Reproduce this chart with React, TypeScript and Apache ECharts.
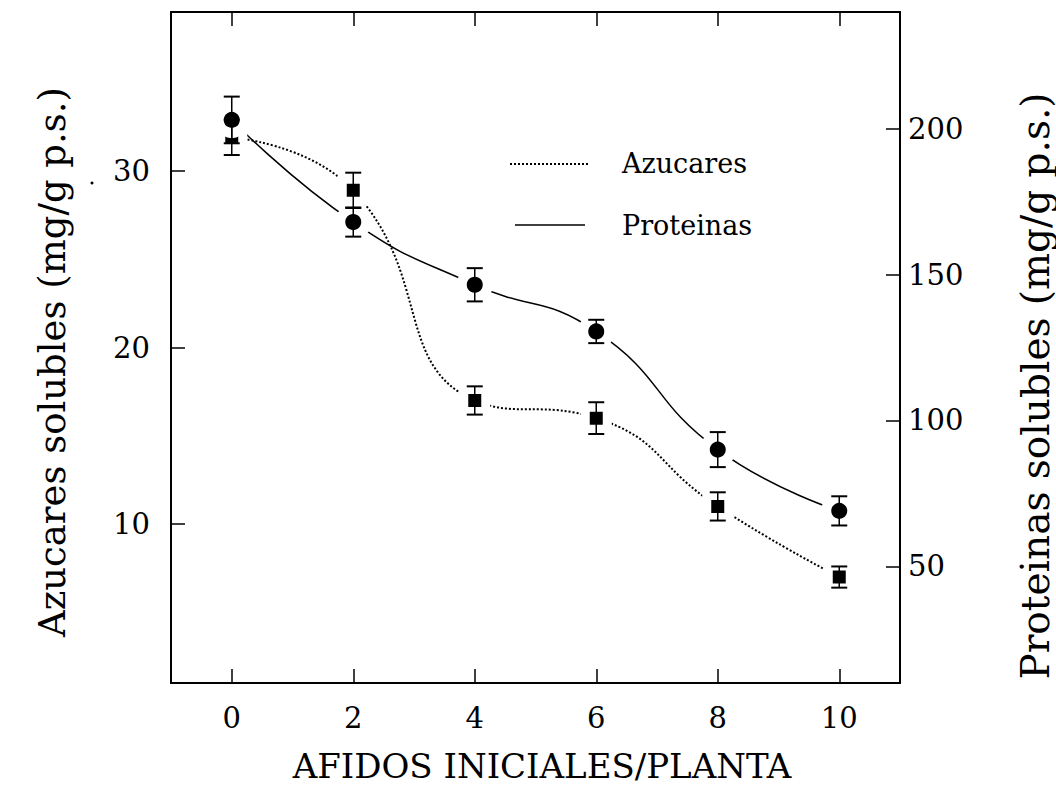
import React, { useEffect, useRef } from "react";
import * as echarts from "echarts";

// Data
const afidos = [0, 2, 4, 6, 8, 10];
const azucares = [31.9, 28.9, 17.0, 16.0, 11.0, 7.0];
const azucaresErr = [1.0, 1.0, 0.8, 0.9, 0.8, 0.6];
const proteinas = [203, 168, 146.5, 130.5, 90, 69];
const proteinasErr = [8, 5, 5.7, 4, 6, 5];

const xTicks = [0, 2, 4, 6, 8, 10];
const leftTicks = [10, 20, 30];
const rightTicks = [50, 100, 150, 200];

const FONT = "DejaVu Serif";

function errorBars(values: number[], errs: number[]) {
  return afidos.map((x, i) => [x, values[i] - errs[i], values[i] + errs[i]]);
}

function renderErr(params: any, api: any) {
  const x = api.value(0);
  const lo = api.coord([x, api.value(1)]);
  const hi = api.coord([x, api.value(2)]);
  const hw = 8;
  const st = { stroke: "#000", lineWidth: 2 };
  return {
    type: "group",
    children: [
      { type: "line", shape: { x1: lo[0], y1: lo[1], x2: hi[0], y2: hi[1] }, style: { stroke: "#000", lineWidth: 1.5 } },
      { type: "line", shape: { x1: lo[0] - hw, y1: lo[1], x2: lo[0] + hw, y2: lo[1] }, style: st },
      { type: "line", shape: { x1: hi[0] - hw, y1: hi[1], x2: hi[0] + hw, y2: hi[1] }, style: st },
    ],
  };
}

export default function App() {
  const ref = useRef<HTMLDivElement>(null);
  useEffect(() => {
    if (!ref.current) return;
    const chart = echarts.init(ref.current, undefined, { renderer: "svg" });
    const axisLine = { show: true, onZero: false, lineStyle: { color: "#000", width: 2 } };
    const tick = (vals: number[]) => ({ show: true, inside: true, length: 14, customValues: vals, lineStyle: { color: "#000", width: 1.5 } });
    const labelStyle = { color: "#000", fontFamily: FONT, fontSize: 29 };
    chart.setOption({
      animation: false,
      backgroundColor: "#fff",
      grid: { left: 171, right: 156, top: 12, bottom: 103, containLabel: false },
      xAxis: [
        {
          type: "value", position: "bottom", min: -1, max: 11,
          axisLine, axisTick: tick(xTicks), splitLine: { show: false },
          axisLabel: { ...labelStyle, customValues: xTicks, margin: 20 },
        },
        {
          type: "value", position: "top", min: -1, max: 11,
          axisLine, axisTick: tick(xTicks), splitLine: { show: false },
          axisLabel: { show: false },
        },
      ],
      yAxis: [
        {
          type: "value", position: "left", min: 1, max: 39,
          axisLine, axisTick: tick(leftTicks), splitLine: { show: false },
          axisLabel: { ...labelStyle, customValues: leftTicks, margin: 21 },
        },
        {
          type: "value", position: "right", min: 10, max: 240,
          axisLine, axisTick: tick(rightTicks), splitLine: { show: false },
          axisLabel: { ...labelStyle, customValues: rightTicks, margin: 8 },
        },
      ],
      graphic: [
        { type: "line", shape: { x1: 510, y1: 164, x2: 588, y2: 164 }, style: { stroke: "#000", lineWidth: 2, lineDash: [2, 2] } },
        { type: "line", shape: { x1: 515, y1: 225, x2: 585, y2: 225 }, style: { stroke: "#000", lineWidth: 1.5 } },
        { type: "text", x: 622, y: 163, style: { text: "Azucares", font: `27px "${FONT}"`, fill: "#000", textVerticalAlign: "middle" } },
        { type: "text", x: 622, y: 225, style: { text: "Proteinas", font: `27px "${FONT}"`, fill: "#000", textVerticalAlign: "middle" } },
        { type: "text", x: 542, y: 766, style: { text: "AFIDOS INICIALES/PLANTA", font: `34px "${FONT}"`, fill: "#000", textAlign: "center", textVerticalAlign: "middle" } },
        { type: "text", x: 52, y: 362, rotation: Math.PI / 2, style: { text: "Azucares solubles (mg/g p.s.)", font: `37px "${FONT}"`, fill: "#000", textAlign: "center", textVerticalAlign: "middle" } },
        { type: "text", x: 1035, y: 386, rotation: Math.PI / 2, style: { text: "Proteinas solubles (mg/g p.s.)", font: `39px "${FONT}"`, fill: "#000", textAlign: "center", textVerticalAlign: "middle" } },
        { type: "circle", shape: { cx: 92, cy: 183, r: 1.5 }, style: { fill: "#000" } },
      ],
      series: [
        {
          name: "Azucares", type: "line", xAxisIndex: 0, yAxisIndex: 0, smooth: 0.5, showSymbol: false,
          data: afidos.map((x, i) => [x, azucares[i]]),
          lineStyle: { color: "#000", width: 2, type: [2, 2] }, z: 2,
        },
        {
          name: "Proteinas", type: "line", xAxisIndex: 0, yAxisIndex: 1, smooth: 0.5, showSymbol: false,
          data: afidos.map((x, i) => [x, proteinas[i]]),
          lineStyle: { color: "#000", width: 1.5 }, z: 2,
        },
        {
          type: "scatter", xAxisIndex: 0, yAxisIndex: 0, symbol: "rect", symbolSize: 22,
          data: afidos.map((x, i) => [x, azucares[i]]),
          itemStyle: { color: "#000", borderColor: "#fff", borderWidth: 9, opacity: 1 }, z: 3,
        },
        {
          type: "scatter", xAxisIndex: 0, yAxisIndex: 1, symbol: "circle", symbolSize: 26,
          data: afidos.map((x, i) => [x, proteinas[i]]),
          itemStyle: { color: "#000", borderColor: "#fff", borderWidth: 10, opacity: 1 }, z: 3,
        },
        {
          type: "custom", xAxisIndex: 0, yAxisIndex: 0, renderItem: renderErr,
          encode: { x: 0, y: [1, 2] }, data: errorBars(azucares, azucaresErr), z: 5,
        },
        {
          type: "custom", xAxisIndex: 0, yAxisIndex: 1, renderItem: renderErr,
          encode: { x: 0, y: [1, 2] }, data: errorBars(proteinas, proteinasErr), z: 5,
        },
      ],
    });
    return () => chart.dispose();
  }, []);
  return <div ref={ref} style={{ position: "absolute", left: 0, top: 0, width: 1056, height: 786 }} />;
}
